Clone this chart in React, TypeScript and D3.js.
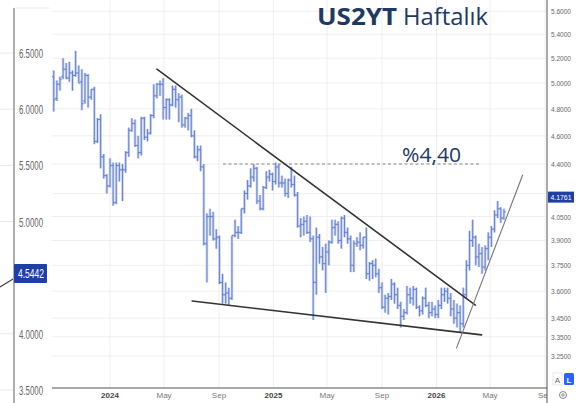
import React, { useEffect } from 'react';
import * as d3 from 'd3';

// ---- Data (weekly OHLC, US 2Y yield) ----
const firstWeek = new Date(2023, 7, 28);
const weekOpen = [
  5.05, 4.88, 4.99, 5.05, 5.11, 5.04, 5.08, 5.06, 5.08, 5.01, 4.86, 5.06, 4.89, 4.95, 4.56, 4.72, 4.45, 4.32,
  4.25, 4.39, 4.14, 4.39, 4.36, 4.36, 4.48, 4.64, 4.69, 4.53, 4.48, 4.73, 4.59, 4.62, 4.75, 4.90, 4.99, 4.99,
  4.81, 4.87, 4.83, 4.95, 4.87, 4.89, 4.68, 4.73, 4.75, 4.60, 4.45, 4.50, 4.38, 3.88, 4.05, 4.05, 3.91, 3.92,
  3.65, 3.58, 3.59, 3.56, 3.93, 3.95, 3.95, 4.10, 4.20, 4.25, 4.31, 4.37, 4.15, 4.10, 4.24, 4.31, 4.33,
  4.28, 4.38, 4.27, 4.27, 4.20, 4.29, 4.26, 4.19, 3.99, 4.00, 4.02, 3.95, 3.91, 3.65, 3.92, 3.80, 3.76, 3.83,
  3.89, 3.98, 4.00, 3.90, 4.04, 3.95, 3.91, 3.75, 3.88, 3.89, 3.87, 3.92, 3.70, 3.76, 3.75, 3.70, 3.62, 3.51,
  3.56, 3.57, 3.64, 3.58, 3.52, 3.46, 3.48, 3.58, 3.56, 3.61, 3.51, 3.49, 3.56, 3.52, 3.48, 3.50,
  3.47, 3.52, 3.58, 3.60, 3.56, 3.50, 3.45, 3.48, 3.42, 3.58, 3.75, 3.90, 3.92, 3.80, 3.82, 3.74, 3.85, 3.92,
  3.97, 4.06, 4.10, 4.04,
];
const weekHigh = [
  5.10, 5.02, 5.05, 5.20, 5.16, 5.17, 5.10, 5.26, 5.14, 5.11, 5.08, 5.07, 4.95, 4.97, 4.73, 4.76, 4.47, 4.33,
  4.44, 4.41, 4.41, 4.41, 4.40, 4.49, 4.66, 4.73, 4.72, 4.60, 4.74, 4.74, 4.65, 4.76, 4.99, 5.00, 5.02, 5.04,
  4.88, 4.88, 4.98, 4.98, 4.92, 4.91, 4.74, 4.77, 4.80, 4.64, 4.53, 4.53, 4.40, 4.07, 4.10, 4.08, 3.97, 3.93,
  3.70, 3.65, 3.62, 3.93, 4.03, 3.99, 4.10, 4.22, 4.29, 4.37, 4.40, 4.38, 4.19, 4.25, 4.35, 4.36, 4.34,
  4.41, 4.40, 4.32, 4.30, 4.30, 4.38, 4.32, 4.21, 4.04, 4.05, 4.06, 4.05, 3.93, 3.98, 3.94, 3.86, 3.88, 3.90,
  4.03, 4.03, 4.02, 4.05, 4.06, 3.98, 3.93, 3.90, 3.92, 3.95, 3.92, 3.98, 3.77, 3.78, 3.79, 3.73, 3.65, 3.58,
  3.59, 3.67, 3.65, 3.62, 3.54, 3.50, 3.63, 3.62, 3.63, 3.62, 3.52, 3.57, 3.62, 3.54, 3.54, 3.52,
  3.55, 3.62, 3.62, 3.62, 3.59, 3.55, 3.53, 3.52, 3.62, 3.78, 3.96, 4.03, 3.93, 3.88, 3.86, 3.87, 3.95, 3.99,
  4.09, 4.15, 4.11, 4.10,
];
const weekLow = [
  4.78, 4.86, 4.94, 5.03, 5.03, 5.01, 4.94, 5.05, 5.00, 4.79, 4.84, 4.81, 4.87, 4.54, 4.55, 4.37, 4.30, 4.20,
  4.24, 4.12, 4.13, 4.28, 4.15, 4.34, 4.45, 4.63, 4.52, 4.44, 4.46, 4.57, 4.56, 4.61, 4.73, 4.88, 4.90, 4.72,
  4.72, 4.72, 4.82, 4.81, 4.70, 4.66, 4.66, 4.64, 4.59, 4.44, 4.42, 4.35, 3.87, 3.65, 3.93, 3.90, 3.85, 3.64,
  3.53, 3.53, 3.52, 3.55, 3.92, 3.91, 3.94, 4.07, 4.16, 4.24, 4.28, 4.13, 4.09, 4.09, 4.23, 4.28, 4.22,
  4.26, 4.24, 4.24, 4.18, 4.17, 4.24, 4.18, 3.98, 3.92, 3.93, 3.94, 3.89, 3.44, 3.58, 3.76, 3.72, 3.59, 3.75,
  3.88, 3.93, 3.88, 3.85, 3.92, 3.88, 3.71, 3.71, 3.86, 3.84, 3.85, 3.67, 3.66, 3.67, 3.68, 3.59, 3.50, 3.48,
  3.47, 3.55, 3.53, 3.50, 3.40, 3.44, 3.47, 3.53, 3.52, 3.50, 3.46, 3.47, 3.51, 3.45, 3.46, 3.45,
  3.45, 3.50, 3.54, 3.53, 3.46, 3.42, 3.40, 3.37, 3.40, 3.56, 3.72, 3.86, 3.75, 3.74, 3.70, 3.72, 3.78, 3.86,
  3.95, 4.04, 4.01, 4.03,
];
const weekClose = [
  4.87, 4.99, 5.03, 5.11, 5.04, 5.08, 5.06, 5.08, 5.00, 4.84, 5.06, 4.89, 4.95, 4.56, 4.72, 4.45, 4.32, 4.25,
  4.39, 4.14, 4.39, 4.36, 4.36, 4.48, 4.64, 4.69, 4.53, 4.48, 4.73, 4.59, 4.62, 4.75, 4.90, 4.99, 4.99, 4.81,
  4.87, 4.83, 4.95, 4.87, 4.89, 4.68, 4.73, 4.75, 4.60, 4.45, 4.50, 4.38, 3.88, 4.05, 4.05, 3.91, 3.92, 3.65,
  3.58, 3.59, 3.56, 3.93, 3.95, 3.95, 4.10, 4.20, 4.25, 4.31, 4.37, 4.15, 4.10, 4.24, 4.31, 4.33, 4.28,
  4.38, 4.27, 4.27, 4.20, 4.29, 4.26, 4.19, 3.99, 4.00, 4.02, 3.95, 3.91, 3.65, 3.92, 3.80, 3.76, 3.83, 3.89,
  3.98, 4.00, 3.90, 4.04, 3.95, 3.91, 3.75, 3.88, 3.89, 3.87, 3.92, 3.70, 3.76, 3.75, 3.70, 3.62, 3.51, 3.56,
  3.57, 3.64, 3.58, 3.52, 3.46, 3.48, 3.58, 3.56, 3.61, 3.51, 3.49, 3.56, 3.52, 3.48, 3.50, 3.47,
  3.52, 3.58, 3.60, 3.56, 3.50, 3.45, 3.48, 3.42, 3.58, 3.75, 3.90, 3.92, 3.80, 3.82, 3.74, 3.85, 3.92, 3.97,
  4.06, 4.10, 4.04, 4.08,
];

const rightTicks = [5.6, 5.4, 5.2, 5.0, 4.8, 4.6, 4.4, 4.05, 3.9, 3.75, 3.6, 3.45, 3.35, 3.25];
const rightGrid = [5.6, 5.4, 5.2, 5.0, 4.8, 4.6, 4.4, 4.2, 4.05, 3.9, 3.75, 3.6, 3.45, 3.35, 3.25];
const leftTicks = [6.5, 6.0, 5.5, 5.0, 4.0, 3.5];
const timeTickDates = [
  new Date(2024, 0, 1), new Date(2024, 4, 1), new Date(2024, 8, 1),
  new Date(2025, 0, 1), new Date(2025, 4, 1), new Date(2025, 8, 1),
  new Date(2026, 0, 1), new Date(2026, 4, 1), new Date(2026, 8, 1),
];
const timeTickLabels = ['2024', 'May', 'Sep', '2025', 'May', 'Sep', '2026', 'May', 'Sep'];
const lastPrice = 4.1761;
const otherPrice = 4.5442;
const resistanceLevel = 4.40;
const resistanceLabel = '%4,40';
const resistanceFrom = new Date(2024, 8, 10);
const resistanceTo = new Date(2026, 3, 7);
// trend lines: [startDate, startValue, endDate, endValue]
const upperTrend: [Date, number, Date, number] = [new Date(2024, 3, 15), 5.11, new Date(2026, 2, 29), 3.522];
const lowerTrend: [Date, number, Date, number] = [new Date(2024, 6, 3), 3.545, new Date(2026, 3, 12), 3.36];
const riseTrend: [Date, number, Date, number] = [new Date(2026, 1, 15), 3.292, new Date(2026, 6, 13), 4.324];

const W = 587;
const H = 403;

export default function App() {
  useEffect(() => {
    document.body.style.margin = '0';
  }, []);

  const x = d3.scaleTime().domain([new Date(2024, 0, 1), new Date(2026, 8, 1)]).range([110, 545]);
  const y = d3.scaleLog().domain([3.25, 5.6]).range([356, 11.2]);
  const yLeft = d3.scaleLinear().domain([3.5, 6.5]).range([390, 53]);

  const plotL = 52, plotR = 547, plotB = 388;
  const weekDates = weekOpen.map((_, i) => d3.timeDay.offset(firstWeek, i * 7));

  const trend = (t: [Date, number, Date, number], color: string, w: number, key: string) => (
    <line key={key} x1={x(t[0])} y1={y(t[1])} x2={x(t[2])} y2={y(t[3])} stroke={color} strokeWidth={w} strokeLinecap="round" />
  );

  const font = "'Liberation Sans', Arial, sans-serif";
  const titleFont = "'Open Sans', 'Noto Sans', sans-serif";

  const bars = (color: string, width: number, tick: number) => (
    <g clipPath="url(#plotClip)" stroke={color} strokeWidth={width}>
      {weekDates.map((d, i) => {
        const cx = x(d);
        return (
          <g key={'b' + i}>
            <line x1={cx} x2={cx} y1={y(weekHigh[i])} y2={y(weekLow[i])} />
            <line x1={cx - tick} x2={cx} y1={y(weekOpen[i])} y2={y(weekOpen[i])} />
            <line x1={cx} x2={cx + tick} y1={y(weekClose[i])} y2={y(weekClose[i])} />
          </g>
        );
      })}
    </g>
  );

  return (
    <svg width={W} height={H} style={{ display: 'block', background: '#fff' }} fontFamily={font}>
      <defs>
        <clipPath id="plotClip">
          <rect x={plotL} y={0} width={plotR - plotL} height={H} />
        </clipPath>
      </defs>
      <rect x={0} y={0} width={W} height={H} fill="#fff" />

      {/* left overlapped chart fragment */}
      {leftTicks.map((v) => (
        <line key={'lg' + v} x1={0} x2={13} y1={yLeft(v)} y2={yLeft(v)} stroke="#e8e8e8" strokeWidth={1} />
      ))}
      <line x1={14} x2={50} y1={8} y2={8} stroke="#eeeeee" strokeWidth={1} />
      <line x1={0} y1={287} x2={13} y2={279} stroke="#444" strokeWidth={1.2} />
      <line x1={14} x2={14} y1={8} y2={H} stroke="#9a9a9a" strokeWidth={1.6} />
      {leftTicks.map((v) => (
        <text key={'lt' + v} x={43} y={yLeft(v) + 5} textAnchor="end" fontSize={13} fill="#666"
          textLength={24} lengthAdjust="spacingAndGlyphs">{v.toFixed(4)}</text>
      ))}
      <rect x={14} y={264} width={33} height={19} fill="#1e3fa4" rx={1} />
      <text x={31} y={yLeft(otherPrice) + 5} textAnchor="middle" fontSize={13} fill="#fff"
        textLength={26} lengthAdjust="spacingAndGlyphs">{otherPrice.toFixed(4)}</text>

      {/* grid */}
      {rightGrid.map((v) => (
        <line key={'g' + v} x1={plotL} x2={plotR} y1={y(v)} y2={y(v)} stroke="#efefef" strokeWidth={1} />
      ))}
      {timeTickDates.map((d, i) => (
        <line key={'vg' + i} x1={x(d)} x2={x(d)} y1={0} y2={plotB} stroke="#efefef" strokeWidth={1} />
      ))}

      {/* bars: soft halo + core line */}
      {bars('#c6d1f0', 2.6, 1.8)}
      {bars('#5a78cf', 0.9, 1.6)}

      {/* resistance dashed */}
      <line x1={x(resistanceFrom)} x2={x(resistanceTo)} y1={y(resistanceLevel)} y2={y(resistanceLevel)}
        stroke="#8a8a8a" strokeWidth={1.1} strokeDasharray="3,2.5" />
      <text x={402} y={y(resistanceLevel) - 2} fontSize={20} fill="#1f3864" fontFamily={titleFont}
        textLength={59} lengthAdjust="spacingAndGlyphs">{resistanceLabel}</text>

      {/* trend lines */}
      {trend(upperTrend, '#333', 1.6, 'up')}
      {trend(lowerTrend, '#333', 1.6, 'low')}
      {trend(riseTrend, '#777', 1.1, 'rise')}

      {/* title */}
      <text x={317} y={25} fontSize={24} fontWeight="bold" fill="#1f3864" fontFamily={titleFont}
        textLength={80} lengthAdjust="spacingAndGlyphs">US2YT</text>
      <text x={403} y={25} fontSize={24} fill="#1f3864" fontFamily={titleFont}
        textLength={85} lengthAdjust="spacingAndGlyphs">Haftalık</text>

      {/* bottom axis */}
      <line x1={plotL} x2={plotR} y1={plotB} y2={plotB} stroke="#a8a8a8" strokeWidth={2} />
      <g clipPath="url(#plotClip)">
        {timeTickDates.map((d, i) => (
          <text key={'xt' + i} x={x(d)} y={398} textAnchor="middle" fontSize={8}
            fill={i % 3 === 0 ? '#444' : '#777'} fontWeight={i % 3 === 0 ? 'bold' : 'normal'}>
            {timeTickLabels[i]}
          </text>
        ))}
      </g>

      {/* right axis */}
      <rect x={plotR} y={0} width={W - plotR} height={H} fill="#fff" />
      <line x1={plotR} x2={plotR} y1={0} y2={H} stroke="#555" strokeWidth={1} />
      {rightTicks.map((v) => (
        <text key={'rt' + v} x={551} y={y(v) + 3} fontSize={8} fill="#666"
          textLength={20} lengthAdjust="spacingAndGlyphs">{v.toFixed(4)}</text>
      ))}
      <rect x={548} y={y(lastPrice) - 5.5} width={26} height={11} fill="#1e3fa4" />
      <text x={561} y={y(lastPrice) + 3} textAnchor="middle" fontSize={8} fill="#fff"
        textLength={21} lengthAdjust="spacingAndGlyphs">{lastPrice.toFixed(4)}</text>

      {/* A / L buttons */}
      <rect x={553} y={373} width={9} height={12} fill="#fff" stroke="#e2e2e2" strokeWidth={0.8} />
      <text x={557.5} y={382.5} textAnchor="middle" fontSize={8} fill="#666">A</text>
      <rect x={564} y={373} width={10} height={12} fill="#2962ff" rx={1.5} />
      <text x={569} y={382.5} textAnchor="middle" fontSize={8} fill="#fff" fontWeight="bold">L</text>
      <circle cx={563} cy={395} r={3.5} fill="none" stroke="#777" strokeWidth={0.9} />
      <circle cx={563} cy={395} r={1.3} fill="none" stroke="#777" strokeWidth={0.8} />
    </svg>
  );
}
